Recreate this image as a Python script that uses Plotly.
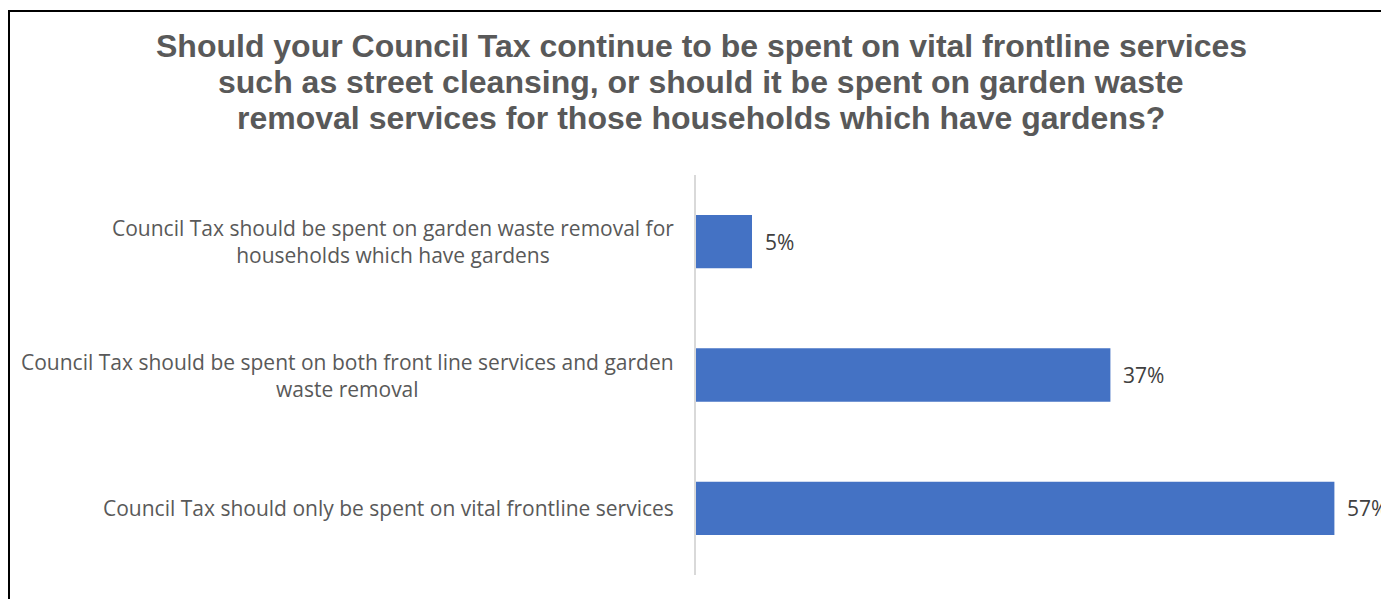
import plotly.graph_objects as go

categories = [
    "Council Tax should only be spent on vital frontline services",
    "Council Tax should be spent on both front line services and garden<br>waste removal",
    "Council Tax should be spent on garden waste removal for<br>households which have gardens",
]
values = [57, 37, 5]
value_labels = ["57%", "37%", "5%"]
title_lines = [
    "Should your Council Tax continue to be spent on vital frontline services",
    "such as street cleansing, or should it be spent on garden waste",
    "removal services for those households which have gardens?",
]

W, H = 1381, 591
L, R, T, B = 688, 21, 167, 24
pw, ph = W - L - R, H - T - B

LABEL_FONT = dict(family="Open Sans, sans-serif", size=21, color="#595959")
VALUE_FONT = dict(family="Open Sans, sans-serif", size=21, color="#404040")

fig = go.Figure()
fig.add_trace(go.Bar(
    x=values, y=categories, orientation="h",
    marker=dict(color="#4472C4", line=dict(width=0)),
    width=0.4, hoverinfo="x+y",
))

# value labels
for cat, v, lab in zip(categories, values, value_labels):
    fig.add_annotation(x=v, xref="x", y=cat, yref="y", text=lab, showarrow=False,
                       xanchor="left", yanchor="middle", xshift=11, font=VALUE_FONT)

# category labels (centered multi-line block, right edge near axis)
for cat in categories:
    fig.add_annotation(
        x=0, xref="paper", y=cat, yref="y", text=cat, showarrow=False,
        xanchor="right", yanchor="middle", align="center", xshift=-20,
        font=LABEL_FONT,
    )

# title
title_centers = [38, 74, 110]
for line, yc in zip(title_lines, title_centers):
    fig.add_annotation(
        x=(693 - L) / pw, xref="paper", y=(H - B - yc) / ph, yref="paper",
        text="<b>" + line + "</b>", showarrow=False, xanchor="center", yanchor="middle",
        font=dict(family="Liberation Sans, Arial, sans-serif", size=32, color="#595959"),
    )

fig.add_shape(type="rect", xref="paper", yref="paper",
              x0=(1 - L) / pw, x1=1.3, y0=-0.3, y1=(H - B - 3) / ph,
              line=dict(color="black", width=2), layer="above")

fig.update_layout(
    width=W, height=H,
    margin=dict(l=L, r=R, t=T, b=B),
    paper_bgcolor="white", plot_bgcolor="white",
    showlegend=False,
    xaxis=dict(range=[0, 60], showgrid=False, showticklabels=False, zeroline=False,
               showline=False, ticks="", fixedrange=True),
    yaxis=dict(showticklabels=False, showgrid=False, zeroline=False,
               showline=True, linecolor="#D9D9D9", linewidth=2, ticks="", fixedrange=True),
)
fig.write_html("out.html", config={"displayModeBar": False})
